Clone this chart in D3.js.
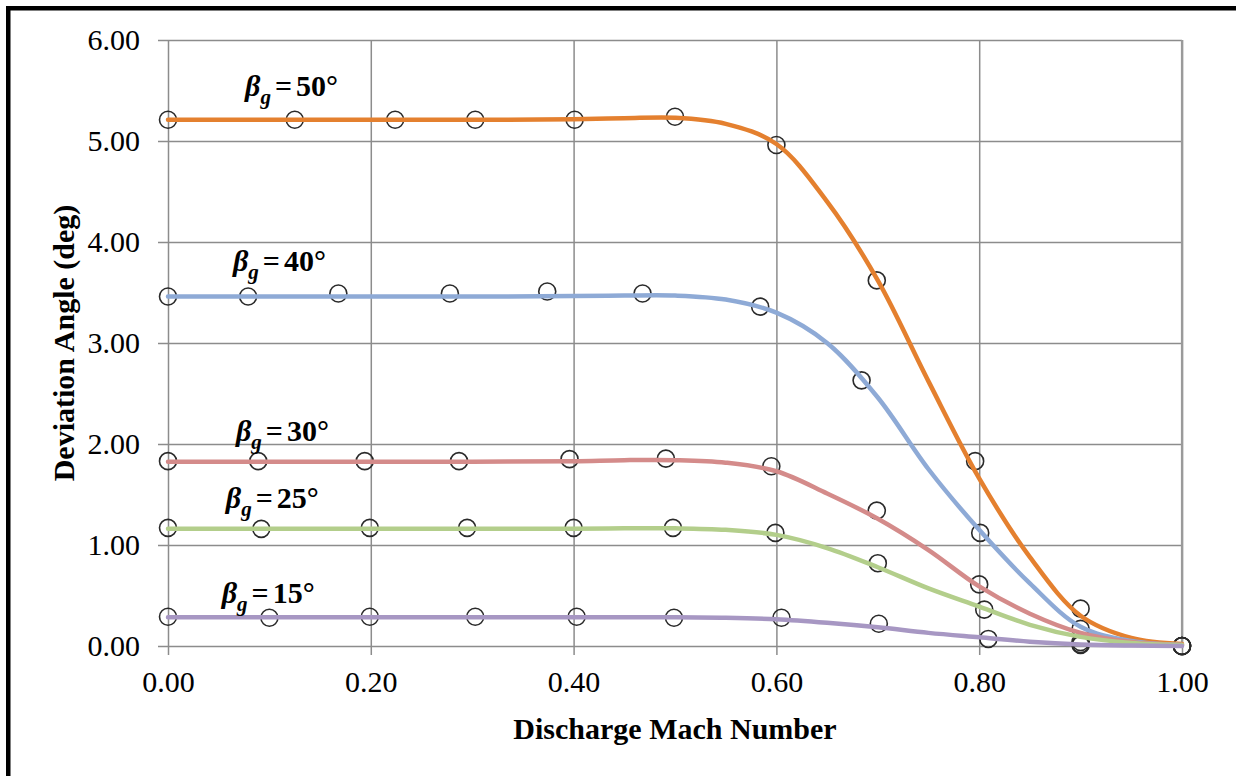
<!DOCTYPE html>
<html>
<head>
<meta charset="utf-8">
<script src="https://cdn.jsdelivr.net/npm/d3@7"></script>
<style>
  html, body { margin: 0; padding: 0; background: #fff; }
  svg { display: block; }
  text { font-family: "Liberation Serif", "Times New Roman", serif; fill: #000; }
</style>
</head>
<body>
<svg id="chart" width="1236" height="776"></svg>
<script>
// Tick values on both axes
const xTicks = [0, 0.2, 0.4, 0.6, 0.8, 1.0];
const yTicks = [0, 1, 2, 3, 4, 5, 6];

// Blade angle of each series (labels)
const gammaLabels = ["50", "40", "30", "25", "15"];
const seriesColors = ["#E4802F", "#8EAAD6", "#D48B8A", "#B3CE8B", "#A797C3"];

// Measured data (open circles): discharge Mach number and deviation angle
const mach50 = [0, 0.125, 0.224, 0.303, 0.401, 0.500, 0.600, 0.699, 0.796, 0.900, 1.0];
const dev50  = [5.21, 5.21, 5.21, 5.21, 5.21, 5.24, 4.96, 3.62, 1.83, 0.37, 0.0];
const mach40 = [0, 0.079, 0.168, 0.278, 0.374, 0.468, 0.584, 0.684, 0.801, 0.900, 1.0];
const dev40  = [3.46, 3.46, 3.49, 3.49, 3.51, 3.49, 3.36, 2.63, 1.12, 0.17, 0.0];
const mach30 = [0, 0.089, 0.194, 0.287, 0.396, 0.491, 0.595, 0.699, 0.800, 0.900, 1.0];
const dev30  = [1.83, 1.83, 1.83, 1.83, 1.85, 1.855, 1.78, 1.34, 0.61, 0.04, 0.0];
const mach25 = [0, 0.092, 0.199, 0.295, 0.400, 0.498, 0.599, 0.700, 0.805, 0.900, 1.0];
const dev25  = [1.17, 1.16, 1.17, 1.17, 1.17, 1.17, 1.12, 0.82, 0.36, 0.02, 0.0];
const mach15 = [0, 0.100, 0.199, 0.303, 0.403, 0.499, 0.605, 0.701, 0.809, 0.900, 1.0];
const dev15  = [0.29, 0.28, 0.29, 0.29, 0.29, 0.28, 0.28, 0.22, 0.07, 0.01, 0.0];

// Model curves, sampled along the Mach axis
const curveMach = [0, 0.1, 0.2, 0.3, 0.4, 0.45, 0.5, 0.55, 0.6, 0.65, 0.7, 0.75, 0.8, 0.85, 0.9, 0.95, 1.0];
const curve50 = [5.21, 5.21, 5.21, 5.21, 5.215, 5.225, 5.23, 5.17, 4.97, 4.40, 3.62, 2.62, 1.66, 0.88, 0.30, 0.08, 0.02];
const curve40 = [3.46, 3.46, 3.46, 3.46, 3.465, 3.47, 3.47, 3.43, 3.30, 3.00, 2.46, 1.75, 1.15, 0.62, 0.19, 0.05, 0.01];
const curve30 = [1.825, 1.825, 1.825, 1.825, 1.83, 1.84, 1.84, 1.815, 1.73, 1.51, 1.26, 0.95, 0.59, 0.32, 0.13, 0.04, 0.01];
const curve25 = [1.16, 1.16, 1.16, 1.16, 1.16, 1.165, 1.165, 1.15, 1.10, 0.97, 0.78, 0.57, 0.39, 0.21, 0.09, 0.03, 0.01];
const curve15 = [0.285, 0.285, 0.285, 0.285, 0.285, 0.285, 0.285, 0.28, 0.265, 0.23, 0.185, 0.13, 0.086, 0.043, 0.016, 0.005, 0.0];

const pointSets = [[mach50, dev50], [mach40, dev40], [mach30, dev30], [mach25, dev25], [mach15, dev15]];
const curveSets = [curve50, curve40, curve30, curve25, curve15];

// Label anchor (Mach, deviation) for each curve label
const labelMach = [0.076, 0.064, 0.067, 0.057, 0.053];
const labelDev  = [5.45, 3.71, 2.03, 1.37, 0.43];

const svg = d3.select("#chart");
const W = 1236, H = 776;

// Page frame (top and left edges)
svg.append("rect").attr("x", 0).attr("y", 0).attr("width", W).attr("height", H).attr("fill", "#fff");
svg.append("rect").attr("x", 6).attr("y", 6).attr("width", W).attr("height", 4.5).attr("fill", "#000");
svg.append("rect").attr("x", 6).attr("y", 6).attr("width", 4.5).attr("height", H).attr("fill", "#000");

const x = d3.scaleLinear().domain([0, 1]).range([168, 1182]);
const y = d3.scaleLinear().domain([0, 6]).range([646, 40]);

const gridColor = "#8c8c8c";

// Vertical grid with outward ticks
const xAxis = d3.axisBottom(x).tickValues(xTicks).tickSize(-(646 - 40)).tickSizeOuter(0)
  .tickFormat(d3.format(".2f")).tickPadding(25);
const gx = svg.append("g").attr("transform", "translate(0,646)").call(xAxis);
gx.select(".domain").remove();
gx.selectAll(".tick line").attr("stroke", gridColor).attr("stroke-width", 1.5).attr("y1", 9);
gx.selectAll(".tick text").attr("font-size", 30).attr("font-family", "Liberation Serif").attr("fill", "#000");

// Horizontal grid with outward ticks
const yAxis = d3.axisLeft(y).tickValues(yTicks).tickSize(-(1182 - 168)).tickSizeOuter(0)
  .tickFormat(d3.format(".2f")).tickPadding(28);
const gy = svg.append("g").attr("transform", "translate(168,0)").call(yAxis);
gy.select(".domain").remove();
gy.selectAll(".tick line").attr("stroke", gridColor).attr("stroke-width", 1.5).attr("x1", -10);
gy.selectAll(".tick text").attr("font-size", 30).attr("font-family", "Liberation Serif").attr("fill", "#000");

// Right border of the plot area
svg.append("line").attr("x1", x(1)).attr("x2", x(1)).attr("y1", y(6)).attr("y2", y(0))
  .attr("stroke", "#9a9a9a").attr("stroke-width", 2.2);

// Measured points
pointSets.forEach(([ms, vs]) => {
  svg.append("g").selectAll("circle").data(ms.map((m, i) => [m, vs[i]])).join("circle")
    .attr("cx", d => x(d[0])).attr("cy", d => y(d[1])).attr("r", 8.5)
    .attr("fill", "none").attr("stroke", "#2a2a2a").attr("stroke-width", 1.6);
});

// Model curves
const line = d3.line().x(d => x(d[0])).y(d => y(d[1])).curve(d3.curveCatmullRom.alpha(0.5));
curveSets.forEach((vals, k) => {
  svg.append("path").datum(curveMach.map((m, i) => [m, vals[i]]))
    .attr("d", line).attr("fill", "none").attr("stroke", seriesColors[k])
    .attr("stroke-width", 4.5).attr("stroke-linejoin", "round").attr("stroke-linecap", "round");
});

// Curve labels: β_g = N°
gammaLabels.forEach((g, k) => {
  const t = svg.append("text").attr("x", x(labelMach[k])).attr("y", y(labelDev[k]))
    .attr("font-size", 30).attr("font-weight", "bold");
  t.append("tspan").attr("font-style", "italic").text("\u03B2");
  t.append("tspan").attr("font-style", "italic").attr("font-size", 21).attr("dy", 8).text("g");
  t.append("tspan").attr("dy", -8).attr("dx", 4).text("=");
  t.append("tspan").attr("dx", 4).text(g + "\u00B0");
});

// Axis titles
svg.append("text").attr("x", (x(0) + x(1)) / 2).attr("y", 739).attr("text-anchor", "middle")
  .attr("font-size", 30).attr("font-weight", "bold").text("Discharge Mach Number");
svg.append("text").attr("transform", `translate(74,${(y(0) + y(6)) / 2}) rotate(-90)`)
  .attr("text-anchor", "middle").attr("font-size", 30).attr("font-weight", "bold")
  .text("Deviation Angle (deg)");
</script>
</body>
</html>
